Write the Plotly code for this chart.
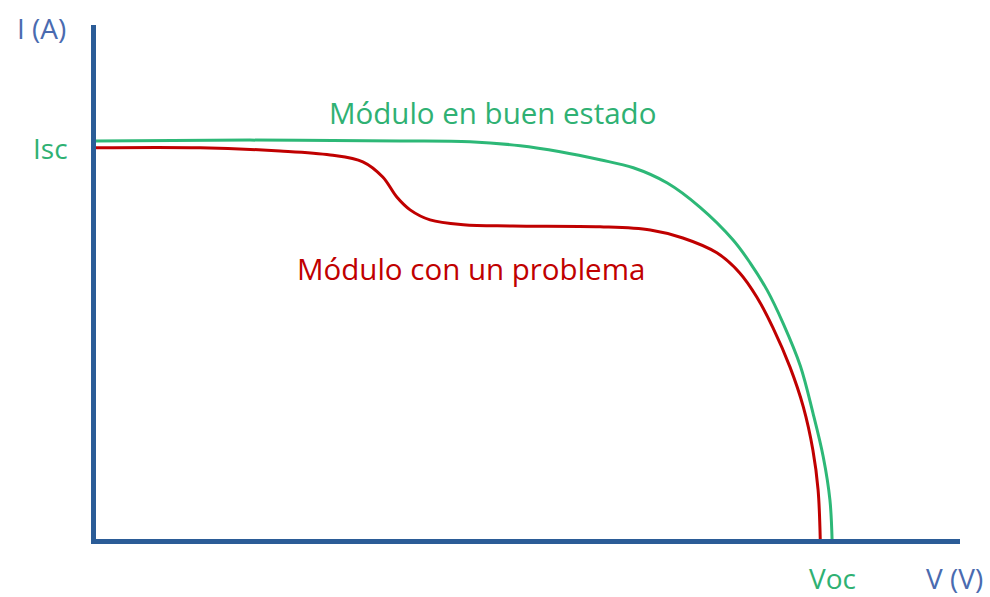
import plotly.graph_objects as go

# Good module I-V curve (normalised: V/Voc, I/Isc)
good_v = [0, 0.212, 0.415, 0.510, 0.578, 0.632, 0.686, 0.731, 0.777, 0.821, 0.866, 0.889, 0.912, 0.934, 0.957, 0.974, 0.988, 0.997, 1.000]
good_i = [1.000, 1.002, 1.000, 0.998, 0.988, 0.973, 0.953, 0.933, 0.895, 0.835, 0.753, 0.696, 0.628, 0.544, 0.439, 0.322, 0.212, 0.105, 0.000]

# Module with a problem
bad_v = [0, 0.145, 0.253, 0.321, 0.365, 0.392, 0.411, 0.429, 0.456, 0.501, 0.568, 0.686, 0.754, 0.798, 0.844, 0.875, 0.898, 0.920, 0.943, 0.961, 0.974, 0.981, 0.984]
bad_i = [0.983, 0.983, 0.975, 0.965, 0.948, 0.910, 0.860, 0.828, 0.803, 0.791, 0.788, 0.786, 0.778, 0.758, 0.721, 0.671, 0.611, 0.534, 0.436, 0.337, 0.229, 0.130, 0.000]

isc = 1.0
voc = 1.0
x_min, x_max = 0.004, 1.173
y_min, y_max = 0.0075, 1.289

GREEN_LINE = "#2DB877"
GREEN_TEXT = "#2FB173"
RED = "#C00000"
AXIS = "#2B5C97"
LABEL = "#4A6BB0"
FONT = "'Open Sans', sans-serif"

fig = go.Figure()
fig.add_trace(go.Scatter(x=good_v, y=good_i, mode="lines",
                         line=dict(color=GREEN_LINE, width=3, shape="spline", smoothing=1.0),
                         hoverinfo="skip", showlegend=False, cliponaxis=False))
fig.add_trace(go.Scatter(x=bad_v, y=bad_i, mode="lines",
                         line=dict(color=RED, width=3, shape="spline", smoothing=1.0),
                         hoverinfo="skip", showlegend=False, cliponaxis=False))

annotations = [
    dict(x=x_min, y=y_max, text="I (A)", xanchor="right", yanchor="middle", xshift=-28, yshift=-3,
         font=dict(color=LABEL, size=28)),
    dict(x=x_min, y=isc, text="Isc", xanchor="right", yanchor="middle", xshift=-26, yshift=-7,
         font=dict(color=GREEN_TEXT, size=28)),
    dict(x=voc, y=y_min, text="Voc", xanchor="center", yanchor="middle", yshift=-39,
         font=dict(color=GREEN_TEXT, size=28)),
    dict(x=1.165, y=y_min, text="V (V)", xanchor="center", yanchor="middle", yshift=-39,
         font=dict(color=LABEL, size=28)),
    dict(x=0.541, y=1.070, text="Módulo en buen estado", xanchor="center", yanchor="middle",
         font=dict(color=GREEN_TEXT, size=29.5)),
    dict(x=0.512, y=0.683, text="Módulo con un problema", xanchor="center", yanchor="middle",
         font=dict(color=RED, size=29.5)),
]
for a in annotations:
    a.update(xref="x", yref="y", showarrow=False)

fig.update_layout(
    width=990, height=597,
    margin=dict(l=96, r=30, t=25, b=58),
    plot_bgcolor="white", paper_bgcolor="white",
    font=dict(family=FONT),
    annotations=annotations,
    xaxis=dict(range=[x_min, x_max], showgrid=False, zeroline=False, showticklabels=False,
               showline=True, linewidth=5, linecolor=AXIS, ticks=""),
    yaxis=dict(range=[y_min, y_max], showgrid=False, zeroline=False, showticklabels=False,
               showline=True, linewidth=5, linecolor=AXIS, ticks=""),
)

fig.write_html("out.html", config={"displayModeBar": False},
               post_script="document.body.style.margin='0';")
